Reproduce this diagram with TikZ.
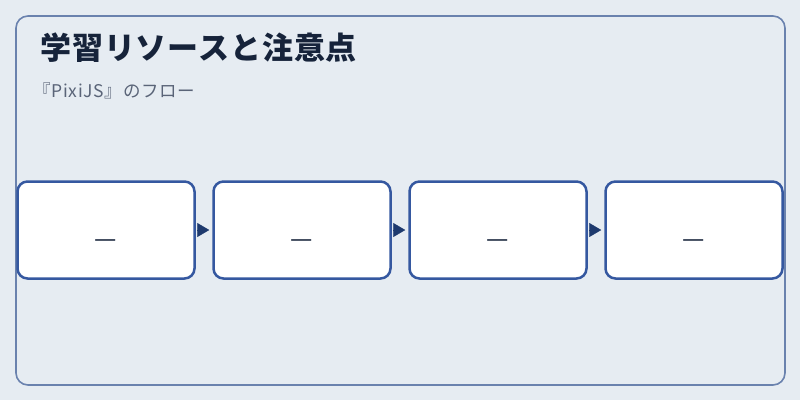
\documentclass[tikz,border=0pt]{standalone}
\usepackage{fontspec}
\setmainfont{Noto Sans CJK JP}
\usetikzlibrary{arrows.meta}
\definecolor{bgcol}{HTML}{E6ECF2}
\definecolor{framecol}{HTML}{6A82AE}
\definecolor{boxcol}{HTML}{3558A0}
\definecolor{tipcol}{HTML}{1E3A6E}
\definecolor{titlecol}{HTML}{16233A}
\definecolor{subcol}{HTML}{5A6478}
\begin{document}
\begin{tikzpicture}[x=1pt, y=-1pt,
    stepbox/.style={draw=boxcol, line width=2.5pt, fill=white, rounded corners=10pt,
        minimum width=177pt, minimum height=97pt, inner sep=0pt},
    flow/.style={-{Triangle[length=12pt,width=14pt]}, draw=tipcol, fill=tipcol,
        shorten <=3pt, shorten >=3pt}]
    % Background and frame
    \fill[bgcol] (0,0) rectangle (800,400);
    \useasboundingbox (0,0) rectangle (800,400);
    \draw[framecol, line width=1.6pt, rounded corners=12pt] (16,16) rectangle (785,385);

    % Title and subtitle
    \node[anchor=base west, text=titlecol, inner sep=0pt,
        font=\fontsize{31}{36}\selectfont\bfseries\addfontfeatures{LetterSpace=3}]
        (title) at (40,59) {学習リソースと注意点};
    \node[anchor=base west, text=subcol, inner sep=0pt,
        font=\fontsize{17.5}{20}\selectfont\addfontfeatures{LetterSpace=4}]
        (sub) at (33,97) {『PixiJS』のフロー};

    % Steps
    \foreach \i/\x in {1/106, 2/302, 3/498, 4/694} {
        \node[stepbox] (s\i) at (\x,230) {};
        \node[text=titlecol, font=\fontsize{25}{30}\selectfont, inner sep=0pt] (t\i) at (\x,243.5) {—};
    }

    % Arrows between the steps
    \draw[flow] (s1.east) -- (s2.west);
    \draw[flow] (s2.east) -- (s3.west);
    \draw[flow] (s3.east) -- (s4.west);
\end{tikzpicture}
\end{document}
